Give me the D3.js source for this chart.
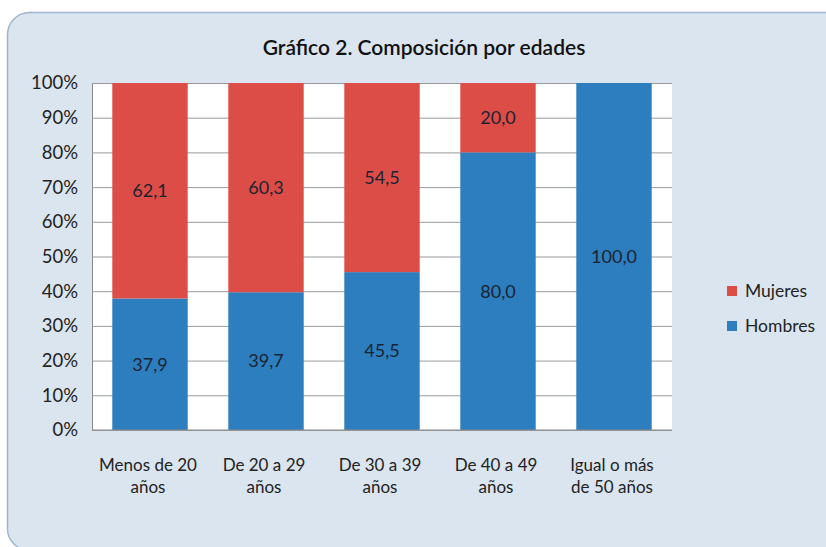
<!DOCTYPE html>
<html>
<head>
<meta charset="utf-8">
<script src="https://cdn.jsdelivr.net/npm/d3@7"></script>
<style>
  body { margin: 0; background: #fff; }
  svg text { font-family: Lato, "Open Sans", sans-serif; }
</style>
</head>
<body>
<div id="chart"></div>
<script>
// Data (percent)
const categories = [
    ["Menos de 20", "años"],
    ["De 20 a 29", "años"],
    ["De 30 a 39", "años"],
    ["De 40 a 49", "años"],
    ["Igual o más", "de 50 años"]
];
const hombres = [37.9, 39.7, 45.5, 80.0, 100.0];
const mujeres = [62.1, 60.3, 54.5, 20.0, 0];
const seriesNames = ["Hombres", "Mujeres"];
const yTicks = [0, 10, 20, 30, 40, 50, 60, 70, 80, 90, 100];

const width = 826,
      height = 547,
      margin = ({top: 83, right: 154, bottom: 117, left: 92});

const colors = {Hombres: "#2d7ebe", Mujeres: "#dd4d48"};

const svg = d3.select("#chart")
    .append("svg")
    .attr("width", width)
    .attr("height", height);

// outer frame
svg.append("rect")
    .attr("x", 7.5).attr("y", 12.5)
    .attr("width", 840).attr("height", 538)
    .attr("rx", 22)
    .attr("fill", "#dbe5ef")
    .attr("stroke", "#9fb5cf")
    .attr("stroke-width", 1.5);

svg.append("text")
    .attr("x", 424).attr("y", 55)
    .attr("text-anchor", "middle")
    .attr("font-size", 21)
    .attr("font-weight", 600)
    .attr("fill", "#111")
    .text("Gráfico 2. Composición por edades");

const idx = d3.range(categories.length);

const x = d3.scaleBand()
    .domain(idx)
    .range([margin.left, width - margin.right])
    .paddingInner(0.35)
    .paddingOuter(0.175);

const y = d3.scaleLinear()
    .domain([0, 100])
    .range([height - margin.bottom, margin.top]);

// plot area
svg.append("rect")
    .attr("x", margin.left).attr("y", margin.top)
    .attr("width", width - margin.right - margin.left)
    .attr("height", y(0) - y(100))
    .attr("fill", "#fff");

// gridlines + y labels
const yAxis = g => g
    .attr("transform", `translate(${margin.left},0)`)
    .call(d3.axisLeft(y)
        .tickValues(yTicks)
        .tickSize(-(width - margin.right - margin.left))
        .tickPadding(14)
        .tickFormat(d => d + "%"))
    .call(g => g.select(".domain").attr("stroke", "#8a8a8a"))
    .call(g => g.selectAll(".tick line").attr("stroke", "#9a9a9a"))
    .call(g => g.selectAll(".tick text")
        .attr("font-size", 18.5)
        .attr("fill", "#222"));

svg.append("g").call(yAxis);

// stacked bars
const stackData = idx.map(i => ({i: i, Hombres: hombres[i], Mujeres: mujeres[i]}));
const stacked = d3.stack().keys(seriesNames)(stackData);

const layer = svg.selectAll(".layer")
    .data(stacked)
    .join("g")
    .attr("class", "layer")
    .attr("fill", d => colors[d.key]);

layer.selectAll("rect")
    .data(d => d)
    .join("rect")
    .attr("x", d => x(d.data.i))
    .attr("width", x.bandwidth())
    .attr("y", d => y(d[1]))
    .attr("height", d => y(d[0]) - y(d[1]));

layer.selectAll("text")
    .data(d => d.filter(s => s[1] - s[0] > 0))
    .join("text")
    .attr("x", d => x(d.data.i) + x.bandwidth() / 2)
    .attr("y", d => y((d[0] + d[1]) / 2))
    .attr("dy", "0.35em")
    .attr("text-anchor", "middle")
    .attr("font-size", 18)
    .attr("fill", "#1b2333")
    .text(d => (d[1] - d[0]).toFixed(1).replace(".", ","));

// bottom axis line
svg.append("line")
    .attr("x1", margin.left).attr("x2", width - margin.right)
    .attr("y1", y(0)).attr("y2", y(0))
    .attr("stroke", "#8a8a8a");

// category labels
const cat = svg.append("g")
    .selectAll("text")
    .data(idx)
    .join("text")
    .attr("x", i => x(i) + x.bandwidth() / 2 - 2)
    .attr("y", 471)
    .attr("text-anchor", "middle")
    .attr("font-size", 17)
    .attr("fill", "#222");

cat.selectAll("tspan")
    .data(i => categories[i])
    .join("tspan")
    .attr("x", function() { return this.parentNode.getAttribute("x"); })
    .attr("dy", (d, j) => j ? 22 : 0)
    .text(d => d);

// legend
const legend = svg.append("g")
    .selectAll("g")
    .data(["Mujeres", "Hombres"])
    .join("g")
    .attr("transform", (d, i) => `translate(727,${286 + i * 35})`);

legend.append("rect")
    .attr("width", 10).attr("height", 10)
    .attr("fill", d => colors[d]);

legend.append("text")
    .attr("x", 18).attr("y", 5)
    .attr("dy", "0.35em")
    .attr("font-size", 17.5)
    .attr("fill", "#222")
    .text(d => d);
</script>
</body>
</html>
